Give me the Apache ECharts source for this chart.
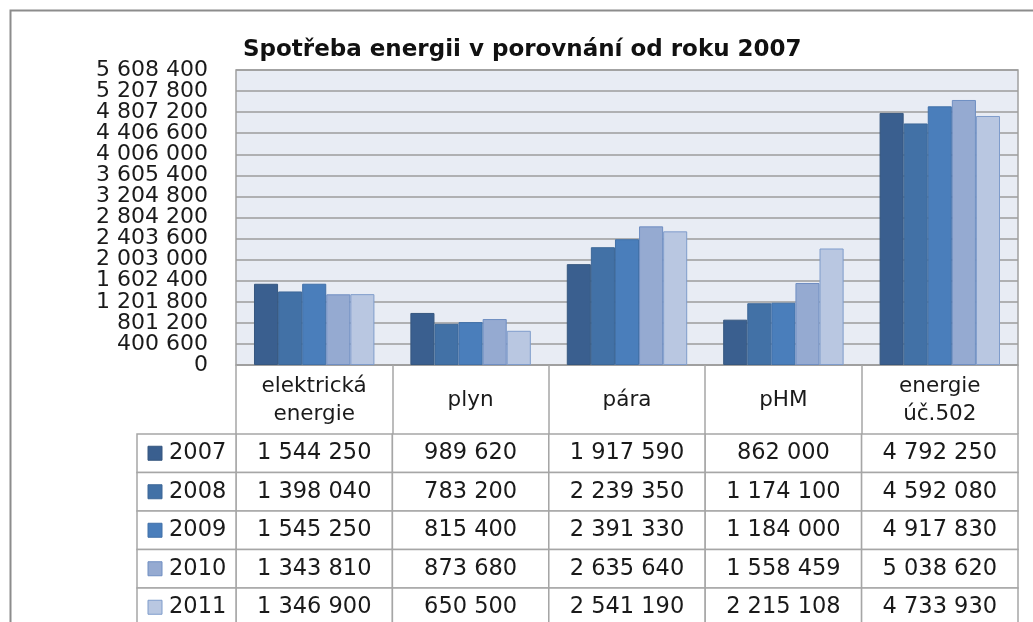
<!DOCTYPE html>
<html>
<head>
<meta charset="utf-8">
<script src="https://cdn.jsdelivr.net/npm/echarts@6/dist/echarts.min.js"></script>
<style>
  html, body { margin: 0; padding: 0; background: #fff; }
  #chart { width: 1033px; height: 622px; }
</style>
</head>
<body>
<div id="chart"></div>
<script>
var categories = ['elektrická\nenergie', 'plyn', 'pára', 'pHM', 'energie\núč.502'];
var years = ['2007', '2008', '2009', '2010', '2011'];
var v2007 = [1544250, 989620, 1917590, 862000, 4792250];
var v2008 = [1398040, 783200, 2239350, 1174100, 4592080];
var v2009 = [1545250, 815400, 2391330, 1184000, 4917830];
var v2010 = [1343810, 873680, 2635640, 1558459, 5038620];
var v2011 = [1346900, 650500, 2541190, 2215108, 4733930];
var yTicks = [0, 400600, 801200, 1201800, 1602400, 2003000, 2403600, 2804200,
  3204800, 3605400, 4006000, 4406600, 4807200, 5207800, 5608400];

var values = [v2007, v2008, v2009, v2010, v2011];
var colors = ['#3a5f8f', '#4271a6', '#4a7ebb', '#95aad1', '#b9c7e1'];
var borders = ['#36577f', '#3c6797', '#4170a8', '#6f8ec2', '#7f9ccb'];
var font = 'DejaVu Sans';

function fmt(n) {
  return String(n).replace(/\B(?=(\d{3})+(?!\d))/g, ' ');
}

// the tick labels sit closer than their text height, so they are split
// over two overlaid axes (even / odd ticks) to keep all of them visible
function valueAxis(parity, grid) {
  return {
    type: 'value',
    gridIndex: 0,
    position: 'left',
    offset: 0,
    min: yTicks[0],
    max: yTicks[yTicks.length - 1],
    interval: yTicks[1] - yTicks[0],
    axisLine: { show: false },
    axisTick: { show: false },
    splitLine: { show: grid, lineStyle: { color: '#9c9c9c', width: 1.5 } },
    axisLabel: {
      fontFamily: font, fontSize: 22, color: '#1a1a1a', margin: 28,
      showMinLabel: true, showMaxLabel: true,
      formatter: function(v) {
        var i = yTicks.indexOf(v);
        return i % 2 === parity ? fmt(v) : '';
      }
    }
  };
}

(function() {
  var dom = document.getElementById('chart');
  var myChart = echarts.init(dom);

  var series = [];
  for (var j = 0; j < years.length; j++) {
    series.push({
      name: years[j],
      type: 'bar',
      xAxisIndex: 0,
      yAxisIndex: 0,
      barGap: '0%',
      barCategoryGap: '23%',
      itemStyle: {
        color: colors[j],
        borderColor: borders[j],
        borderWidth: 1
      },
      data: values[j]
    });
  }

  // data table under the chart (rows on a value axis: row index = value)
  var cells = [];
  for (var r = 0; r < years.length; r++) {
    for (var c = 0; c < categories.length; c++) {
      cells.push([c, r, values[r][c]]);
    }
  }
  series.push({
    type: 'custom',
    xAxisIndex: 1,
    yAxisIndex: 1,
    silent: true,
    clip: false,
    data: cells,
    renderItem: function(params, api) {
      var ci = api.value(0), ri = api.value(1);
      var p = api.coord([ci, ri]);
      var s = api.size([1, 1]);
      var x0 = p[0] - s[0] / 2, y0 = p[1] - s[1] / 2;
      var lineStyle = { fill: '#fff', stroke: '#a6a6a6', lineWidth: 1.5 };
      var kids = [
        { type: 'rect', shape: { x: x0, y: y0, width: s[0], height: s[1] }, style: lineStyle },
        { type: 'text', style: {
            x: p[0], y: p[1], text: fmt(api.value(2)), align: 'center', verticalAlign: 'middle',
            font: '22.5px "' + font + '"', fill: '#1a1a1a' } }
      ];
      if (ci === 0) {
        var lw = 99;
        kids.push({ type: 'rect', shape: { x: x0 - lw, y: y0, width: lw, height: s[1] }, style: lineStyle });
        kids.push({ type: 'rect', shape: { x: x0 - lw + 11, y: p[1] - 7, width: 14, height: 14 },
          style: { fill: colors[ri], stroke: borders[ri], lineWidth: 1 } });
        kids.push({ type: 'text', style: {
            x: x0 - lw + 32, y: p[1], text: years[ri], align: 'left', verticalAlign: 'middle',
            font: '22.5px "' + font + '"', fill: '#1a1a1a' } });
      }
      return { type: 'group', children: kids };
    }
  });

  var tableRows = {
    type: 'value',
    gridIndex: 1,
    min: 0,
    max: years.length - 1,
    inverse: true,
    show: false
  };

  option = {
    animation: false,
    backgroundColor: '#fff',
    title: {
      text: 'Spotřeba energii v porovnání od roku 2007',
      left: 238,
      top: 34,
      textStyle: { fontFamily: font, fontSize: 23, fontWeight: 'bold', color: '#111' }
    },
    graphic: [{
      type: 'rect',
      left: 8,
      top: 8,
      shape: { x: 0, y: 0, width: 1100, height: 700 },
      style: { fill: 'none', stroke: '#8c8c8c', lineWidth: 2 },
      z: 10
    }],
    grid: [
      { left: 236, top: 70, width: 782, height: 295, show: true,
        backgroundColor: '#e8ecf4', borderColor: '#a0a0a0', borderWidth: 1.5 },
      { left: 236, top: 453.25, width: 782, height: 154 }
    ],
    xAxis: [
      {
        type: 'category',
        gridIndex: 0,
        data: categories,
        axisLine: { lineStyle: { color: '#a0a0a0', width: 1.5 } },
        axisTick: { show: true, length: 69, lineStyle: { color: '#a6a6a6', width: 1.5 } },
        axisLabel: {
          fontFamily: font, fontSize: 21.5, lineHeight: 28, color: '#1a1a1a',
          verticalAlign: 'middle', margin: 35, interval: 0
        }
      },
      {
        type: 'category',
        gridIndex: 1,
        data: categories,
        show: false
      }
    ],
    yAxis: [valueAxis(0, true), tableRows, valueAxis(1, false)],
    series: series
  };

  if (option && typeof option === 'object') {
    myChart.setOption(option, true);
  }
})();
</script>
</body>
</html>
